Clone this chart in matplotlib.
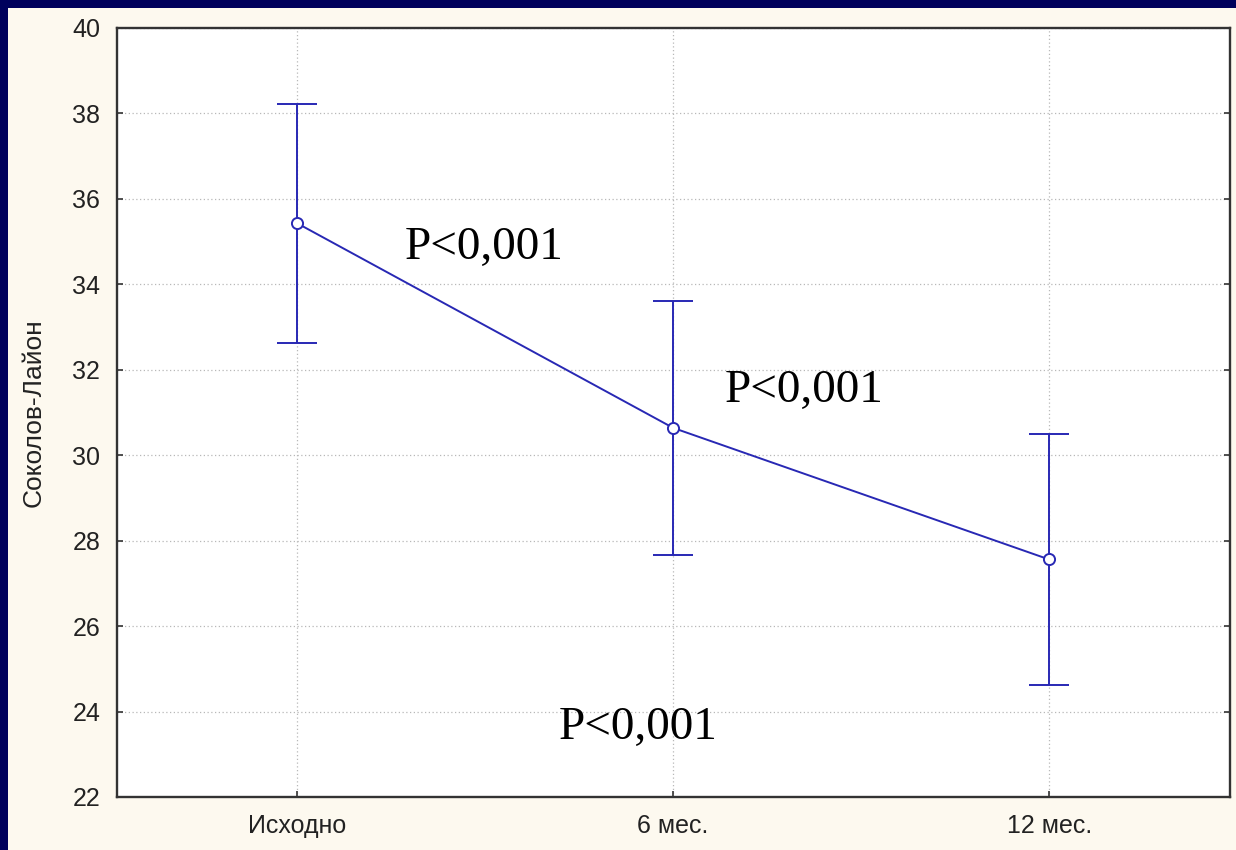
import matplotlib.pyplot as plt
from matplotlib.patches import Rectangle

# data
labels = ['Исходно', '6 мес.', '12 мес.']
means = [35.43, 30.64, 27.56]
errs = [2.80, 2.97, 2.93]
p_texts = ['P<0,001', 'P<0,001', 'P<0,001']
p_pos = [(0.287, 34.59), (1.138, 31.25), (0.695, 23.35)]

navy = '#00005C'
cream = '#FDF9EF'
blue = '#2828B4'

fig = plt.figure(figsize=(12.36, 8.5), dpi=100, facecolor=navy)
# cream slide area, navy border only on left and top
bg = Rectangle((8/1236, 0), 1, 1 - 8/850, transform=fig.transFigure,
               facecolor=cream, edgecolor='none', zorder=-10)
fig.add_artist(bg)

ax = fig.add_axes([117/1236, 1 - 797/850, (1230 - 117)/1236, (797 - 28)/850])
ax.set_facecolor('white')

x = list(range(len(labels)))
ax.errorbar(x, means, yerr=errs, color=blue, lw=1.4, capsize=14.5, capthick=1.4,
            marker='o', ms=8, mfc='white', mec=blue, mew=1.4, zorder=3)

for t, (px, py) in zip(p_texts, p_pos):
    ax.text(px, py, t, family='Liberation Serif', fontsize=34, color='black',
            ha='left', va='baseline', zorder=4)

ax.set_xlim(-0.479, 2.481)
ax.set_ylim(22, 40)
ax.set_xticks(x)
ax.set_xticklabels(labels)
ax.set_yticks(range(22, 41, 2))

ax.grid(True, color='#B8B8B8', lw=0.9, ls=(0, (1, 2)))
ax.set_axisbelow(True)

for s in ax.spines.values():
    s.set_color('#333333')
    s.set_linewidth(1.7)

ax.tick_params(direction='in', length=4, width=1.2, color='#333333',
               labelsize=18, labelcolor='#222222', right=True)
ax.tick_params(axis='y', pad=12)
ax.tick_params(axis='x', pad=12)
for lab in ax.get_xticklabels() + ax.get_yticklabels():
    lab.set_family('Liberation Sans')

ax.set_ylabel('Соколов-Лайон', family='Liberation Sans', fontsize=19, color='#222222')
ax.yaxis.set_label_coords(-0.064, 0.5)

fig.savefig('out.png', dpi=100, facecolor=fig.get_facecolor())
